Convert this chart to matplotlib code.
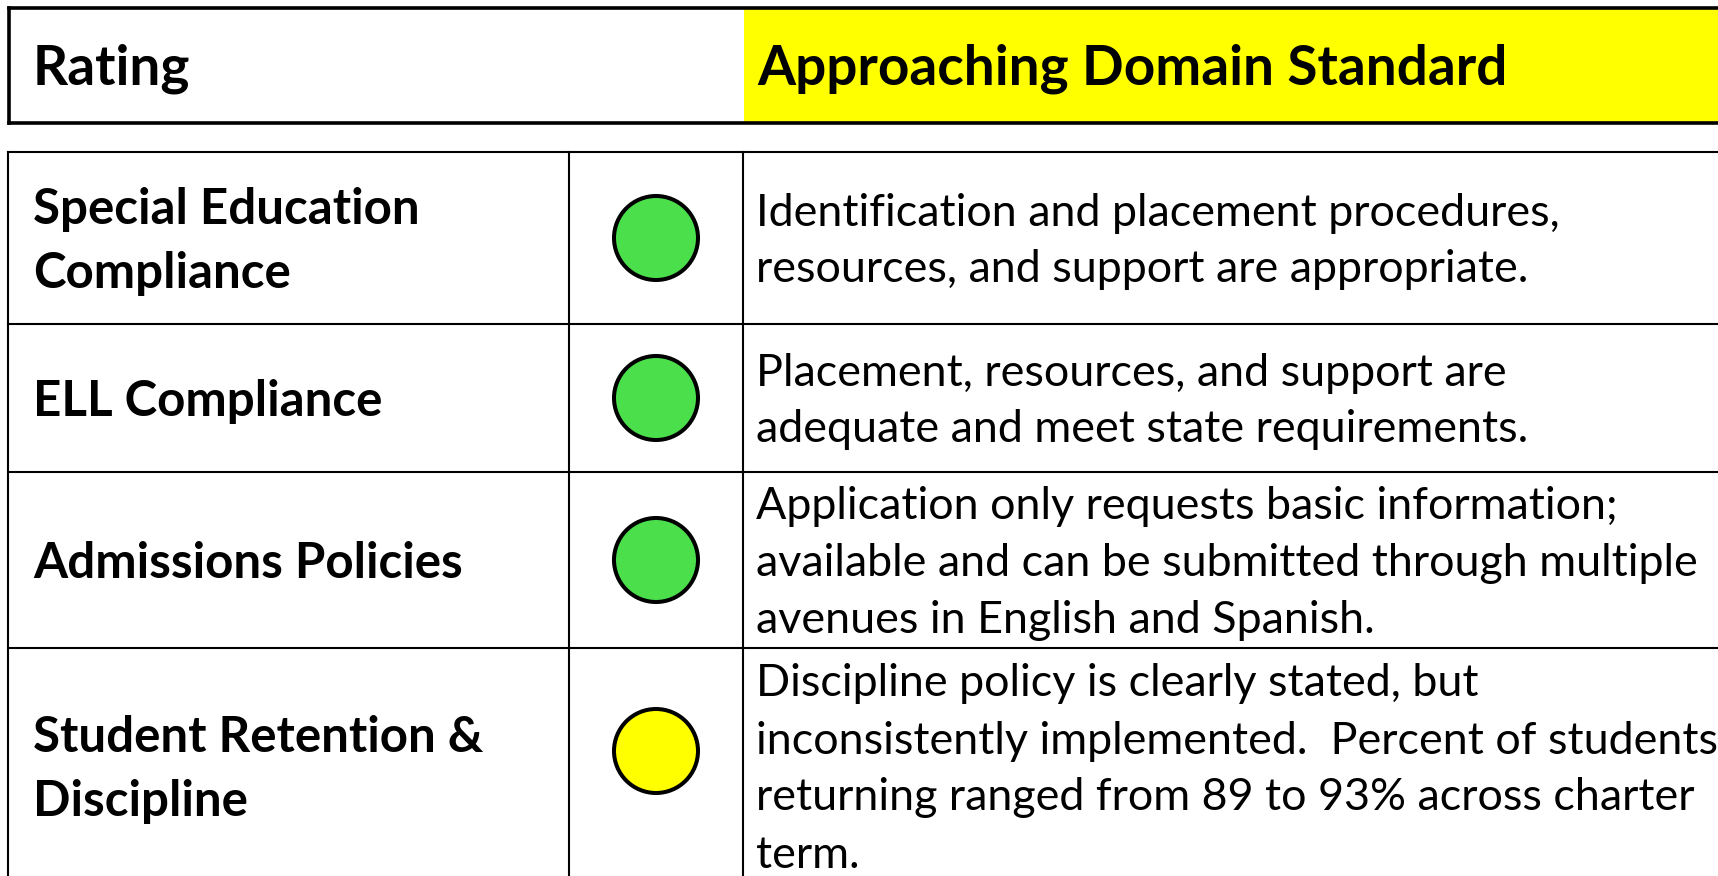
import matplotlib
matplotlib.use("Agg")
import matplotlib.pyplot as plt
from matplotlib.patches import Circle, Rectangle

# ---- content -------------------------------------------------------------
HEADER_LABEL = "Rating"
HEADER_RATING = "Approaching Domain Standard"

categories = [
    ["Special Education", "Compliance"],
    ["ELL Compliance"],
    ["Admissions Policies"],
    ["Student Retention &", "Discipline"],
]
ratings = ["green", "green", "green", "yellow"]
descriptions = [
    ["Identification and placement procedures,",
     "resources, and support are appropriate."],
    ["Placement, resources, and support are",
     "adequate and meet state requirements."],
    ["Application only requests basic information;",
     "available and can be submitted through multiple",
     "avenues in English and Spanish."],
    ["Discipline policy is clearly stated, but",
     "inconsistently implemented.  Percent of students",
     "returning ranged from 89 to 93% across charter",
     "term."],
]

# ---- layout (pixels of the 1718x876 canvas) -------------------------------
W, H = 1718, 876
HEAD_TOP, HEAD_BOT, HEAD_LEFT, HEAD_SPLIT = 8, 123, 9, 744
ROW_EDGES = [152, 324, 472, 648, 884]
COL_X = [8, 569, 743]
LABEL_X, DESC_X = 33, 756
CIRCLE_R = 42
FONT = "Lato"

COLORS = {"green": "#4be04b", "yellow": "#ffff00"}
YELLOW = "#ffff00"
INK = "#000000"

fig = plt.figure(figsize=(W / 100, H / 100), dpi=100)
fig.set_facecolor("white")
ax = fig.add_axes([0, 0, 1, 1])
ax.set_xlim(0, W)
ax.set_ylim(H, 0)
ax.set_aspect("equal")
ax.axis("off")

# header strip
ax.add_patch(Rectangle((HEAD_SPLIT, HEAD_TOP), W - HEAD_SPLIT + 5,
                       HEAD_BOT - HEAD_TOP, facecolor=YELLOW, edgecolor="none"))
ax.plot([HEAD_LEFT, W + 5], [HEAD_TOP, HEAD_TOP], color=INK, lw=2.6,
        solid_capstyle="projecting")
ax.plot([HEAD_LEFT, W + 5], [HEAD_BOT, HEAD_BOT], color=INK, lw=2.6,
        solid_capstyle="projecting")
ax.plot([HEAD_LEFT, HEAD_LEFT], [HEAD_TOP, HEAD_BOT], color=INK, lw=2.6,
        solid_capstyle="projecting")
ax.text(LABEL_X, 85, HEADER_LABEL, fontsize=39.5, fontweight="bold",
        family=FONT, va="baseline", ha="left", color=INK)
ax.text(HEAD_SPLIT + 13, 85, HEADER_RATING, fontsize=39.5, fontweight="bold",
        family=FONT, va="baseline", ha="left", color=INK)

# table grid
for y in ROW_EDGES[:-1]:
    ax.plot([COL_X[0], W + 5], [y, y], color=INK, lw=1.5)
for x in COL_X:
    ax.plot([x, x], [ROW_EDGES[0], H + 5], color=INK, lw=1.5)

# rows
for i, (label, rating, desc) in enumerate(zip(categories, ratings, descriptions)):
    top, bot = ROW_EDGES[i], ROW_EDGES[i + 1]
    mid = (top + bot) / 2
    for j, line in enumerate(label):
        y = mid + (j - (len(label) - 1) / 2) * 64 + 18
        ax.text(LABEL_X, y, line, fontsize=35.5, fontweight="bold", family=FONT,
                va="baseline", ha="left", color=INK)
    for j, line in enumerate(desc):
        y = mid + (j - (len(desc) - 1) / 2) * 57 + 16
        ax.text(DESC_X, y, line, fontsize=32.3, family=FONT,
                va="baseline", ha="left", color=INK)
    cy = top + min(bot - top, 206) / 2
    ax.add_patch(Circle(((COL_X[1] + COL_X[2]) / 2, cy), CIRCLE_R,
                        facecolor=COLORS[rating], edgecolor=INK, lw=2.9))

fig.savefig("out.png", dpi=100, facecolor="white")
